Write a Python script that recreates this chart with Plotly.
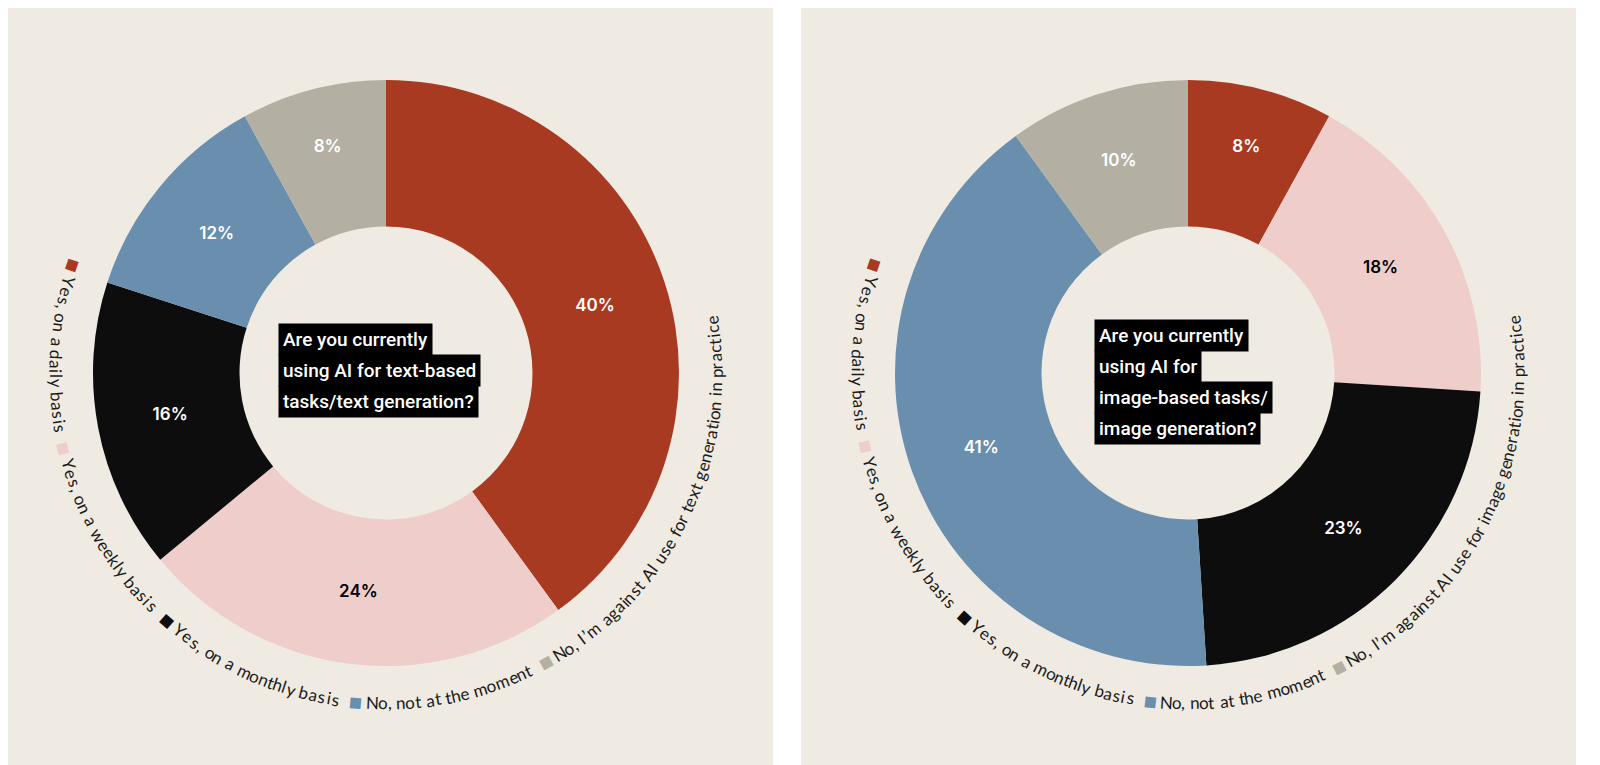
import math
import plotly.graph_objects as go

labels = ["Yes, on a daily basis", "Yes, on a weekly basis", "Yes, on a monthly basis",
          "No, not at the moment", "No, I’m against AI use for {} generation in practice"]
colors = ["#A93A22", "#EFCDCB", "#0D0D0D", "#6A8EAD", "#B3B0A3"]
text_colors = ["white", "black", "white", "white", "white"]

text_values = [40, 24, 16, 12, 8]
image_values = [8, 18, 23, 41, 10]

text_title = ["Are you currently", "using AI for text-based", "tasks/text generation?"]
image_title = ["Are you currently", "using AI for", "image-based tasks/", "image generation?"]

W, H = 1600, 765
BG = "#EFEBE2"
R_OUT = 293


def char_w(c):
    if c in "il.,’'I:;| ":
        return 0.28
    if c in "trfj":
        return 0.36
    if c in "mwMW":
        return 0.82
    if c == "■":
        return 0.75
    if c.isupper():
        return 0.64
    return 0.52


def arc_text(cx, cy, kind, r=330, a0=160, a1=370):
    parts = []
    for i, lab in enumerate(labels):
        parts.append(("■", colors[i]))
        parts.append((" ", None))
        for ch in lab.format(kind):
            parts.append((ch, "#1a1a1a"))
        if i < len(labels) - 1:
            parts.append(("  ", None))
    widths = [sum(char_w(c) for c in p) for p, _ in parts]
    total = sum(widths)
    span = a1 - a0
    anns = []
    pos = 0
    for (p, col), w in zip(parts, widths):
        if col is not None:
            a = a0 + span * (pos + w / 2) / total
            t = math.radians(a)
            x = cx + r * math.cos(t)
            y = cy - r * math.sin(t)
            anns.append(dict(x=x, y=y, xref="x", yref="y", text=p, showarrow=False,
                             textangle=270 - a, xanchor="center", yanchor="middle",
                             font=dict(family="Lato", size=22 if p == "■" else 17, color=col)))
        pos += w
    return anns


def title_boxes(x, y0, lines):
    anns = []
    for i, ln in enumerate(lines):
        anns.append(dict(x=x, y=y0 + i * 31, xref="x", yref="y", text=ln, showarrow=False,
                         xanchor="left", yanchor="middle", bgcolor="black", borderpad=4,
                         font=dict(family="Roboto", size=19, color="white", weight=500)))
    return anns


def pie(values, cx, cy):
    return go.Pie(values=values, labels=[l.format("") for l in labels], sort=False,
                  direction="clockwise", rotation=0, hole=0.5,
                  marker=dict(colors=colors), texttemplate="%{value}%",
                  textposition="inside", insidetextorientation="horizontal",
                  textfont=dict(family="Inter", size=17, color=text_colors, weight=600),
                  showlegend=False, hoverinfo="skip",
                  domain=dict(x=[(cx - R_OUT) / W, (cx + R_OUT) / W],
                              y=[(H - cy - R_OUT) / H, (H - cy + R_OUT) / H]))


fig = go.Figure()
fig.add_trace(pie(text_values, 378, 365))
fig.add_trace(pie(image_values, 1180, 365))

anns = []
anns += arc_text(378, 365, "text")
anns += arc_text(1180, 365, "image")
anns += title_boxes(270, 331, text_title)
anns += title_boxes(1086, 327, image_title)

fig.update_layout(
    width=W, height=H, margin=dict(l=0, r=0, t=0, b=0),
    paper_bgcolor="white", plot_bgcolor="rgba(0,0,0,0)",
    xaxis=dict(range=[0, W], visible=False, fixedrange=True),
    yaxis=dict(range=[H, 0], visible=False, fixedrange=True),
    shapes=[
        dict(type="rect", xref="x", yref="y", x0=0, x1=765, y0=0, y1=H,
             fillcolor=BG, line_width=0, layer="below"),
        dict(type="rect", xref="x", yref="y", x0=793, x1=1568, y0=0, y1=H,
             fillcolor=BG, line_width=0, layer="below"),
    ],
    annotations=anns,
)

fig.write_html("out.html")
